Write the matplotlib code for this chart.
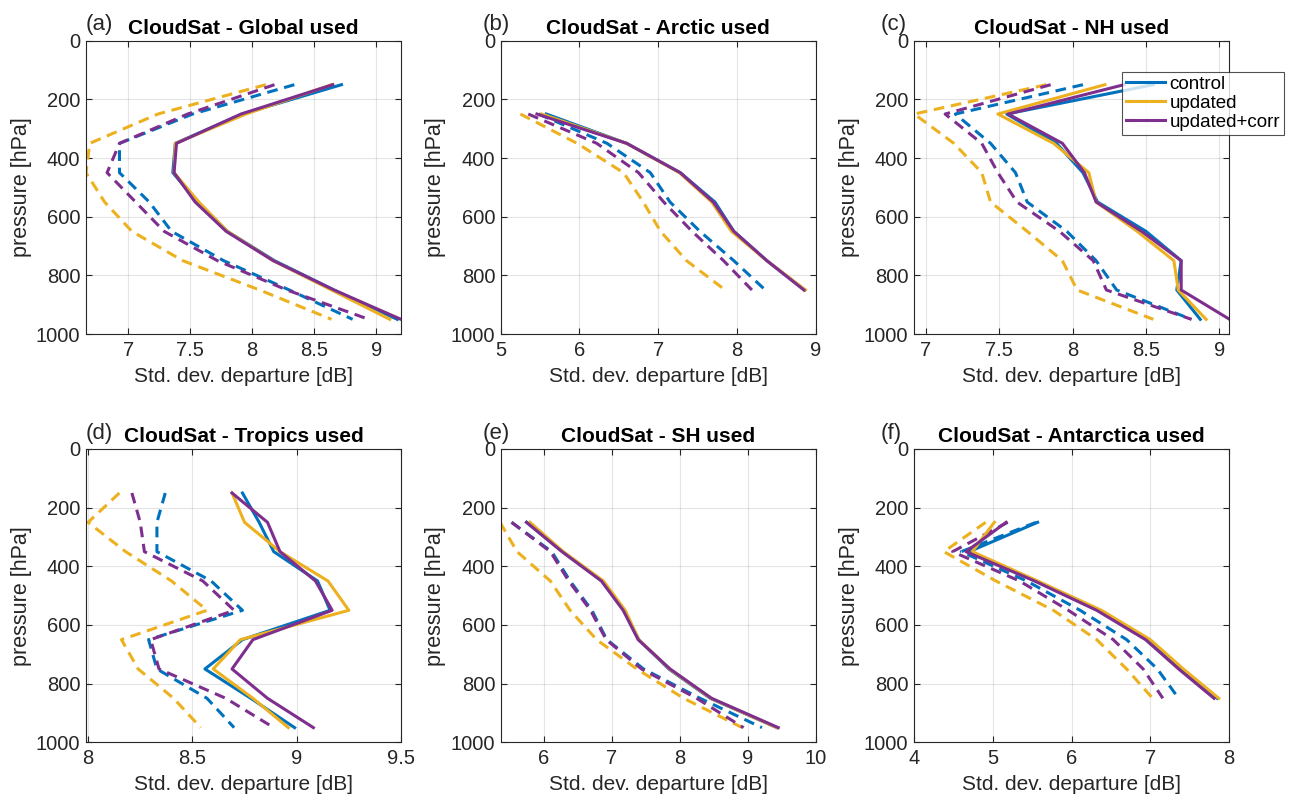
import numpy as np
import matplotlib
matplotlib.use('Agg')
import matplotlib.pyplot as plt

plt.rcParams['font.family'] = ['Liberation Sans', 'DejaVu Sans']

# pressure levels [hPa]
lev_full = [150, 250, 350, 450, 550, 650, 750, 850, 950]
lev_b = [250, 350, 450, 550, 650, 750, 850]
lev_e = [250, 350, 450, 550, 650, 750, 850, 950]

# (a) Global
ctrl_a = [8.72, 7.92, 7.38, 7.36, 7.56, 7.80, 8.18, 8.66, 9.17]
upd_a = [8.64, 7.95, 7.38, 7.37, 7.57, 7.80, 8.17, 8.64, 9.11]
corr_a = [8.65, 7.91, 7.39, 7.37, 7.54, 7.79, 8.17, 8.66, 9.20]
ctrl_a_d = [8.34, 7.52, 6.93, 6.93, 7.17, 7.35, 7.77, 8.30, 8.81]
upd_a_d = [8.11, 7.24, 6.69, 6.66, 6.81, 7.03, 7.44, 8.06, 8.64]
corr_a_d = [8.18, 7.48, 6.93, 6.83, 7.06, 7.29, 7.72, 8.28, 8.94]

# (b) Arctic
ctrl_b = [5.58, 6.60, 7.28, 7.72, 7.96, 8.38, 8.86]
upd_b = [5.52, 6.60, 7.27, 7.68, 7.93, 8.38, 8.87]
corr_b = [5.46, 6.60, 7.28, 7.70, 7.96, 8.38, 8.85]
ctrl_b_d = [5.48, 6.35, 6.90, 7.15, 7.53, 7.96, 8.36]
upd_b_d = [5.25, 5.97, 6.56, 6.81, 7.03, 7.36, 7.85]
corr_b_d = [5.35, 6.22, 6.75, 7.07, 7.43, 7.83, 8.19]

# (c) NH
ctrl_c = [8.55, 7.55, 7.89, 8.07, 8.17, 8.50, 8.74, 8.71, 8.87]
upd_c = [8.22, 7.49, 7.87, 8.11, 8.16, 8.44, 8.69, 8.72, 8.91]
corr_c = [8.35, 7.56, 7.93, 8.08, 8.16, 8.47, 8.74, 8.74, 9.07]
ctrl_c_d = [8.07, 7.20, 7.44, 7.61, 7.69, 7.96, 8.16, 8.30, 8.81]
upd_c_d = [7.82, 6.92, 7.19, 7.38, 7.44, 7.69, 7.93, 8.03, 8.55]
corr_c_d = [7.85, 7.13, 7.38, 7.49, 7.62, 7.91, 8.14, 8.23, 8.81]

# (d) Tropics
ctrl_d = [8.74, 8.82, 8.89, 9.10, 9.16, 8.74, 8.56, 8.78, 8.99]
upd_d = [8.69, 8.75, 8.92, 9.15, 9.25, 8.73, 8.60, 8.79, 8.96]
corr_d = [8.69, 8.86, 8.92, 9.09, 9.17, 8.79, 8.69, 8.86, 9.08]
ctrl_d_d = [8.37, 8.33, 8.33, 8.59, 8.74, 8.29, 8.33, 8.57, 8.70]
upd_d_d = [8.15, 8.00, 8.18, 8.40, 8.57, 8.16, 8.24, 8.41, 8.54]
corr_d_d = [8.21, 8.25, 8.27, 8.55, 8.70, 8.30, 8.34, 8.66, 8.89]

# (e) SH
ctrl_e = [5.75, 6.28, 6.86, 7.18, 7.40, 7.84, 8.45, 9.43]
upd_e = [5.80, 6.29, 6.88, 7.20, 7.40, 7.85, 8.46, 9.43]
corr_e = [5.75, 6.27, 6.85, 7.17, 7.39, 7.86, 8.47, 9.45]
ctrl_e_d = [5.53, 6.12, 6.39, 6.71, 6.93, 7.47, 8.30, 9.21]
upd_e_d = [5.36, 5.61, 6.10, 6.39, 6.78, 7.37, 8.06, 8.92]
corr_e_d = [5.53, 6.10, 6.37, 6.69, 6.92, 7.44, 8.25, 8.94]

# (f) Antarctica
ctrl_f = [5.57, 4.70, 5.55, 6.34, 6.96, 7.38, 7.85]
upd_f = [5.02, 4.74, 5.57, 6.38, 7.00, 7.42, 7.87]
corr_f = [5.17, 4.66, 5.53, 6.32, 6.94, 7.36, 7.81]
ctrl_f_d = [5.55, 4.60, 5.43, 6.11, 6.70, 7.09, 7.36]
upd_f_d = [4.91, 4.38, 5.04, 5.77, 6.32, 6.70, 7.03]
corr_f_d = [5.19, 4.49, 5.34, 5.96, 6.53, 6.91, 7.16]

letters = ['(a)', '(b)', '(c)', '(d)', '(e)', '(f)']
titles = ['CloudSat - Global used', 'CloudSat - Arctic used', 'CloudSat - NH used',
          'CloudSat - Tropics used', 'CloudSat - SH used', 'CloudSat - Antarctica used']
levels = [lev_full, lev_b, lev_full, lev_full, lev_e, lev_b]
solid = [(ctrl_a, upd_a, corr_a), (ctrl_b, upd_b, corr_b), (ctrl_c, upd_c, corr_c),
         (ctrl_d, upd_d, corr_d), (ctrl_e, upd_e, corr_e), (ctrl_f, upd_f, corr_f)]
dashed = [(ctrl_a_d, upd_a_d, corr_a_d), (ctrl_b_d, upd_b_d, corr_b_d), (ctrl_c_d, upd_c_d, corr_c_d),
          (ctrl_d_d, upd_d_d, corr_d_d), (ctrl_e_d, upd_e_d, corr_e_d), (ctrl_f_d, upd_f_d, corr_f_d)]
xlims = [(6.66, 9.2), (5, 9), (6.918, 9.066), (7.99, 9.5), (5.37, 10), (4, 8)]
xticks = [[7, 7.5, 8, 8.5, 9], [5, 6, 7, 8, 9], [7, 7.5, 8, 8.5, 9],
          [8, 8.5, 9, 9.5], [6, 7, 8, 9, 10], [4, 5, 6, 7, 8]]
names = ['control', 'updated', 'updated+corr']
colors = ['#0072BD', '#EDB120', '#7E2F8E']

W, H = 1291, 800
fig = plt.figure(figsize=(W / 100, H / 100), dpi=100)

# axes boxes in pixels (left, top)
lefts = [86, 500.7, 914]
tops = [40.7, 449]
aw, ah = 315, 293.3
label_x = [86, 483, 881]

for i in range(6):
    r, c = divmod(i, 3)
    ax = fig.add_axes([lefts[c] / W, 1 - (tops[r] + ah) / H, aw / W, ah / H])
    lev = levels[i]
    for j in range(3):
        ax.plot(dashed[i][j], lev, '--', color=colors[j], lw=2.2, dashes=(3.5, 2.2))
    hs = []
    for j in range(3):
        h, = ax.plot(solid[i][j], lev, '-', color=colors[j], lw=2.2, label=names[j])
        hs.append(h)
    ax.set_ylim(1000, 0)
    ax.set_yticks([0, 200, 400, 600, 800, 1000])
    ax.set_xlim(*xlims[i])
    ax.set_xticks(xticks[i])
    ax.set_xticklabels([f'{t:g}' for t in xticks[i]])
    ax.grid(True, color='#262626', alpha=0.12, lw=0.8)
    ax.tick_params(direction='in', top=True, right=True, labelsize=14.5,
                   colors='#262626', length=4, width=0.8)
    ax.tick_params(axis='y', pad=4)
    ax.tick_params(axis='x', pad=5)
    for s in ax.spines.values():
        s.set_color('#262626')
        s.set_linewidth(0.8)
    ax.set_ylabel('pressure [hPa]', fontsize=15.5, color='#262626', labelpad=3)
    ax.set_xlabel('Std. dev. departure [dB]', fontsize=15, color='#262626', labelpad=5)
    ax.set_title(titles[i], fontsize=15, fontweight='bold', pad=5)
    fig.text(label_x[c] / W, 1 - (tops[r] - 16) / H, letters[i], fontsize=16,
             ha='left', va='center', color='#262626')
    if i == 2:
        # legend sits over the right edge of panel (c)
        leg = ax.legend(handles=hs, loc='upper left', bbox_to_anchor=(0.66, 0.893),
                        fontsize=13.5, frameon=True, fancybox=False, edgecolor='#262626',
                        borderpad=0.2, labelspacing=0.1, handlelength=2.1,
                        handletextpad=0.25, borderaxespad=0)
        leg.get_frame().set_linewidth(0.8)

fig.savefig('out.png', dpi=100)
plt.close(fig)
